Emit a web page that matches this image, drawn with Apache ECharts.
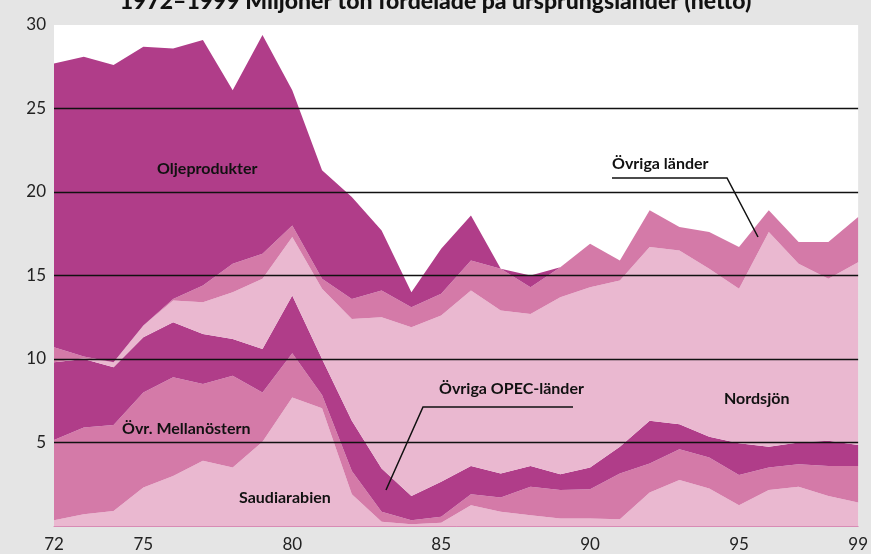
<!DOCTYPE html>
<html>
<head>
<meta charset="utf-8">
<script src="https://cdn.jsdelivr.net/npm/echarts@6/dist/echarts.min.js"></script>
<style>
  html, body { margin: 0; padding: 0; background: #e5e5e5; }
  #chart { width: 871px; height: 554px; }
</style>
</head>
<body>
<div id="chart"></div>
<script>
// år 1972-1999
var years = ['72','73','74','75','76','77','78','79','80','81','82','83','84','85',
             '86','87','88','89','90','91','92','93','94','95','96','97','98','99'];
var shownYears = ['72','75','80','85','90','95','99'];
var yTicks = [5, 10, 15, 20, 25];

// miljoner ton, staplade nerifrån och upp
var saudiarabien = [0.35,0.7,0.9,2.3,3.0,3.9,3.5,5.05,7.7,7.05,1.9,0.25,0.1,0.2,
                    1.25,0.85,0.65,0.45,0.45,0.4,2.0,2.75,2.25,1.25,2.15,2.35,1.8,1.4];
var ovrMellanostern = [4.8,5.2,5.15,5.7,5.9,4.6,5.5,2.95,2.65,0.8,1.4,0.6,0.25,0.35,
                       0.65,0.85,1.7,1.7,1.75,2.75,1.75,1.85,1.85,1.8,1.35,1.35,1.8,2.2];
var ovrigaOpec = [4.65,4.1,3.45,3.3,3.3,3.0,2.2,2.6,3.45,2.15,3.0,2.6,1.45,2.1,
                  1.7,1.45,1.25,0.95,1.3,1.6,2.55,1.5,1.25,1.9,1.25,1.3,1.5,1.25];
var nordsjon = [0,0.05,0.3,0.7,1.3,1.9,2.8,4.2,3.5,4.2,6.1,9.05,10.1,9.95,
                10.5,9.75,9.1,10.6,10.8,9.95,10.4,10.4,10.05,9.25,12.85,10.7,9.7,10.95];
var ovrigaLander = [0.9,0.1,0,0,0.1,1.0,1.7,1.5,0.7,0.6,1.2,1.6,1.2,1.3,
                    1.8,2.5,1.6,1.8,2.6,1.2,2.2,1.4,2.2,2.5,1.3,1.3,2.2,2.7];
var oljeprodukter = [17.0,17.95,17.8,16.7,15.0,14.7,10.4,13.1,8.1,6.5,6.1,3.6,0.9,2.7,
                     2.7,0,0.7,0,0,0,0,0,0,0,0,0,0,0];

var DARK = '#b03d89', MID = '#d47aa8', LIGHT = '#eab8d0';
var FONT = 'Lato';

function layer(name, data, color) {
    return {
        name: name,
        type: 'line',
        stack: 'tot',
        data: data,
        symbol: 'none',
        lineStyle: { width: 0, opacity: 0 },
        areaStyle: { color: color, opacity: 1 },
        emphasis: { disabled: true }
    };
}

var series = [
    layer('Saudiarabien', saudiarabien, LIGHT),
    layer('Övr. Mellanöstern', ovrMellanostern, MID),
    layer('Övriga OPEC-länder', ovrigaOpec, DARK),
    layer('Nordsjön', nordsjon, LIGHT),
    layer('Övriga länder', ovrigaLander, MID),
    layer('Oljeprodukter', oljeprodukter, DARK)
];
// stödlinjer ovanpå ytorna
series[5].z = 3;
series[5].markLine = {
    silent: true,
    symbol: 'none',
    label: { show: false },
    lineStyle: { color: '#111', width: 1.3, type: 'solid' },
    data: yTicks.map(function (v) { return { yAxis: v }; })
};

function label(text, x, y) {
    return {
        type: 'text', left: x, top: y, z: 100,
        style: { text: text, font: 'bold 16px ' + FONT, fill: '#111' }
    };
}

var chart = echarts.init(document.getElementById('chart'));
chart.setOption({
    animation: false,
    backgroundColor: '#e5e5e5',
    title: {
        text: '1972–1999 Miljoner ton fördelade på ursprungsländer (netto)',
        left: 'center',
        top: -15,
        textStyle: { fontFamily: FONT, fontWeight: 900, fontSize: 23, color: '#111' }
    },
    grid: {
        left: 54, right: 12, top: 25, bottom: 28,
        show: true, backgroundColor: '#fff', borderWidth: 0
    },
    xAxis: {
        type: 'category',
        data: years,
        boundaryGap: false,
        axisLine: { lineStyle: { color: '#d88bb5', width: 1 } },
        axisTick: { show: false },
        axisLabel: {
            interval: function (i, v) { return shownYears.indexOf(v) >= 0; },
            fontFamily: FONT, fontSize: 17, color: '#222', margin: 10
        },
        splitLine: { show: false }
    },
    yAxis: {
        type: 'value',
        min: 0, max: 30, interval: 5,
        axisLine: { show: false },
        axisTick: { show: false },
        splitLine: { show: false },
        axisLabel: {
            fontFamily: FONT, fontSize: 17, color: '#222', margin: 8,
            formatter: function (v) { return v === 0 ? '' : v; }
        }
    },
    series: series,
    graphic: [
        label('Oljeprodukter', 157, 161),
        label('Övr. Mellanöstern', 122, 421),
        label('Saudiarabien', 239, 490),
        label('Övriga OPEC-länder', 439, 381),
        label('Nordsjön', 724, 391),
        label('Övriga länder', 612, 156),
        { type: 'polyline', z: 100, shape: { points: [[573, 407], [423, 407], [386, 490]] },
          style: { stroke: '#111', lineWidth: 1.5, fill: null } },
        { type: 'polyline', z: 100, shape: { points: [[612, 178], [727, 178], [758, 237]] },
          style: { stroke: '#111', lineWidth: 1.5, fill: null } }
    ]
});
</script>
</body>
</html>
